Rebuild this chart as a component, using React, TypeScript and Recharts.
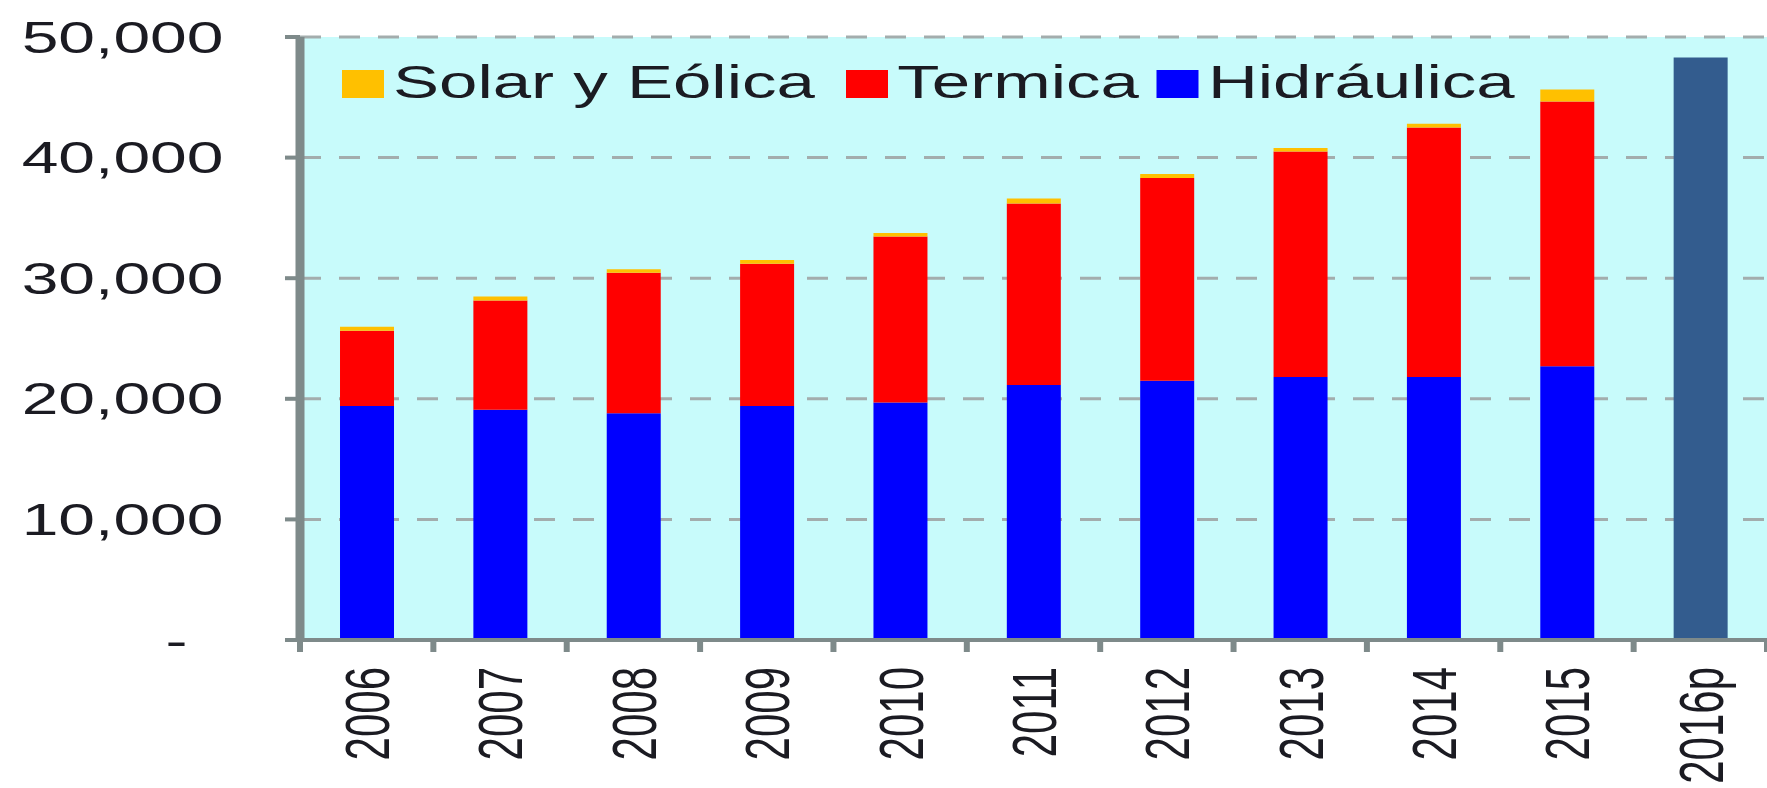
import { BarChart, Bar, XAxis, YAxis, CartesianGrid, Legend } from 'recharts';

const years = ['2006', '2007', '2008', '2009', '2010', '2011', '2012', '2013', '2014', '2015', '2016p'];
const hidraulica = [19400, 19100, 18800, 19400, 19700, 21150, 21500, 21800, 21800, 22700, null];
const termica = [6250, 9050, 11650, 11800, 13750, 15050, 16800, 18700, 20700, 21950, null];
const solarEolica = [330, 340, 300, 300, 300, 400, 350, 300, 300, 1000, null];
const proyeccion = [null, null, null, null, null, null, null, null, null, null, 48300];
const yTicks = [0, 10000, 20000, 30000, 40000, 50000];
const legendOrder = ['Solar y Eólica', 'Termica', 'Hidráulica'];
const legendGaps = [21, 12, 0];

// the source picture is stretched sideways, so the whole chart is drawn narrow and scaled
const STRETCH = 1.5;
const W = 1178;
const H = 788;
const AXIS_W = 200;
const BAND = (W - AXIS_W) / years.length;

const FONT = '"Liberation Sans", Arial, sans-serif';
const TEXT = '#1b1b22';
const AXIS = '#7e8a8a';

const data = years.map((year, i) => ({
  year,
  hidraulica: hidraulica[i],
  termica: termica[i],
  solar: solarEolica[i],
  proyeccion: proyeccion[i],
}));

function XTick({ x, y, payload, index }: any) {
  const last = index === years.length - 1;
  return (
    <g>
      <line x1={x - BAND / 2} x2={x - BAND / 2} y1={y} y2={y + 12} stroke={AXIS} strokeWidth={4} />
      {last && <line x1={x + BAND / 2} x2={x + BAND / 2} y1={y} y2={y + 12} stroke={AXIS} strokeWidth={4} />}
      <text
        transform={`translate(${x},${y}) rotate(-90)`}
        x={-27}
        dy="0.355em"
        textAnchor="end"
        fontSize={42}
        fontFamily={FONT}
        fill={TEXT}
      >
        {payload.value}
      </text>
    </g>
  );
}

function YTick({ x, y, payload }: any) {
  const zero = payload.value === 0;
  return (
    <text x={x} y={y} dx={zero ? -24 : 0} dy="0.355em" textAnchor="end" fontSize={44} fontFamily={FONT} fill={TEXT}>
      {zero ? '-' : payload.value.toLocaleString('en-US')}
    </text>
  );
}

function renderLegend({ payload }: any) {
  const items = legendOrder.map(n => (payload || []).find((p: any) => p.value === n)).filter(Boolean);
  return (
    <div style={{ display: 'flex', whiteSpace: 'nowrap', fontSize: 46, lineHeight: '46px', fontFamily: FONT, color: TEXT }}>
      {items.map((p: any, i: number) => (
        <span key={p.value} style={{ marginRight: legendGaps[i] }}>
          <span style={{ display: 'inline-block', width: 28, height: 28, background: p.color, marginRight: 6 }} />
          {p.value}
        </span>
      ))}
    </div>
  );
}

export default function App() {
  return (
    <div style={{ position: 'absolute', left: 0, top: 0, width: 1767, height: H, overflow: 'hidden', background: '#fff' }}>
      <div style={{ width: W, height: H, transform: `scaleX(${STRETCH})`, transformOrigin: '0 0' }}>
        <BarChart width={W} height={H} data={data} margin={{ top: 37, right: 0, bottom: 0, left: 0 }} barCategoryGap="30%">
          <CartesianGrid
            vertical={false}
            stroke="#a3adad"
            strokeWidth={3}
            strokeDasharray="14 12"
            fill="#c8fbfb"
            fillOpacity={1}
          />
          <XAxis
            dataKey="year"
            height={148}
            interval={0}
            tickSize={0}
            tickMargin={0}
            tickLine={false}
            axisLine={{ stroke: AXIS, strokeWidth: 4 }}
            tick={<XTick />}
          />
          <YAxis
            width={AXIS_W}
            domain={[0, 50000]}
            ticks={yTicks}
            interval={0}
            tickSize={10}
            tickMargin={41}
            axisLine={{ stroke: AXIS, strokeWidth: 6 }}
            tickLine={{ stroke: AXIS, strokeWidth: 4 }}
            tick={<YTick />}
          />
          <Legend
            layout="horizontal"
            verticalAlign="middle"
            align="center"
            wrapperStyle={{ top: 59, left: 228, width: 'auto' }}
            content={renderLegend}
          />
          <Bar dataKey="hidraulica" name="Hidráulica" stackId="a" fill="#0000ff" isAnimationActive={false} />
          <Bar dataKey="termica" name="Termica" stackId="a" fill="#ff0000" isAnimationActive={false} />
          <Bar dataKey="solar" name="Solar y Eólica" stackId="a" fill="#ffc000" isAnimationActive={false} />
          <Bar dataKey="proyeccion" name="2016p" stackId="a" fill="#335c8e" legendType="none" isAnimationActive={false} />
        </BarChart>
      </div>
    </div>
  );
}
